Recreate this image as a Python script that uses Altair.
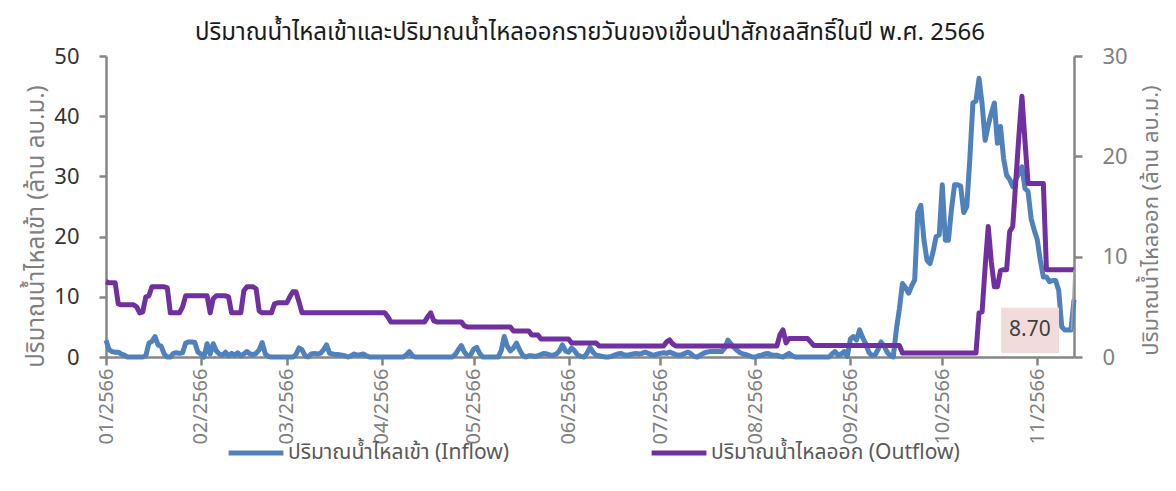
import altair as alt
import pandas as pd

FONT = "Noto Sans Thai, Noto Sans, sans-serif"

title_text = "ปริมาณน้ำไหลเข้าและปริมาณน้ำไหลออกรายวันของเขื่อนป่าสักชลสิทธิ์ในปี พ.ศ. 2566"
series_names = ["ปริมาณน้ำไหลเข้า (Inflow)", "ปริมาณน้ำไหลออก (Outflow)"]
series_colors = ["#4F81BD", "#7030A0"]
left_title = "ปริมาณน้ำไหลเข้า (ล้าน ลบ.ม.)"
right_title = "ปริมาณน้ำไหลออก (ล้าน ลบ.ม.)"

# day index of the first day of each month (day 0 = 1 Jan 2566)
month_starts = [0, 31, 59, 90, 120, 151, 181, 212, 243, 273, 304]
month_labels = ["01/2566", "02/2566", "03/2566", "04/2566", "05/2566", "06/2566",
                "07/2566", "08/2566", "09/2566", "10/2566", "11/2566"]

# daily inflow (million m3), left axis
inflow_jan = [2.8, 1.2, 0.9, 0.8, 0.8, 0.5, 0.3, 0.0, 0.0, 0.0,
              0.0, 0.0, 0.0, 0.2, 2.3, 2.6, 3.4, 2.0, 1.8, 0.5,
              0.0, 0.0, 0.6, 0.7, 0.6, 0.7, 2.3, 2.5, 2.5, 2.4, 0.8]
inflow_feb = [0.5, 0.0, 2.2, 0.5, 2.2, 1.0, 0.5, 0.3, 0.8, 0.2,
              0.6, 0.3, 0.7, 0.2, 0.5, 0.9, 0.5, 0.4, 0.6, 1.2,
              2.4, 0.5, 0.1, 0.0, 0.0, 0.0, 0.0, 0.0]
inflow_mar = [0.0, 0.0, 0.0, 0.4, 1.5, 1.2, 0.2, 0.0, 0.5, 0.6,
              0.5, 0.6, 1.2, 2.0, 0.6, 0.5, 0.4, 0.4, 0.3, 0.2,
              0.0, 0.2, 0.5, 0.3, 0.4, 0.5, 0.2, 0.0, 0.0, 0.0, 0.0]
inflow_apr = [0.0, 0.0, 0.0, 0.0, 0.0, 0.0, 0.0, 0.0, 0.3, 0.9,
              0.2, 0.0, 0.0, 0.0, 0.0, 0.0, 0.0, 0.0, 0.0, 0.0,
              0.0, 0.0, 0.0, 0.0, 0.4, 1.2, 1.9, 0.8, 0.2, 0.3]
inflow_may = [1.3, 1.6, 0.6, 0.0, 0.0, 0.0, 0.0, 0.0, 0.0, 1.0,
              3.4, 1.8, 1.0, 1.5, 2.3, 1.2, 0.3, 0.0, 0.2, 0.2,
              0.1, 0.2, 0.4, 0.6, 0.5, 0.3, 0.3, 0.5, 1.0, 2.0, 1.0]
inflow_jun = [0.8, 1.5, 1.0, 0.3, 0.1, 0.0, 0.6, 1.6, 0.8, 0.3,
              0.2, 0.1, 0.0, 0.0, 0.1, 0.3, 0.5, 0.6, 0.4, 0.3,
              0.4, 0.5, 0.6, 0.5, 0.6, 0.8, 0.6, 0.4, 0.3, 0.5]
inflow_jul = [0.6, 0.7, 0.6, 0.8, 0.6, 0.4, 0.3, 0.4, 0.6, 0.8,
              0.5, 0.1, 0.0, 0.3, 0.6, 0.8, 0.9, 0.9, 0.9, 0.9,
              0.9, 1.5, 2.8, 2.2, 1.6, 1.1, 0.7, 0.5, 0.4, 0.2, 0.0]
inflow_aug = [0.0, 0.2, 0.3, 0.5, 0.6, 0.4, 0.3, 0.3, 0.1, 0.0,
              0.3, 0.6, 0.2, 0.0, 0.0, 0.0, 0.0, 0.0, 0.0, 0.0,
              0.0, 0.0, 0.0, 0.0, 0.0, 0.5, 0.9, 0.3, 0.5, 0.9, 0.1]
inflow_sep = [3.0, 3.4, 2.8, 4.5, 3.2, 2.2, 0.8, 0.3, 0.3, 1.2,
              2.5, 1.8, 0.8, 0.2, 0.0, 4.5, 8.0, 12.2, 11.5, 10.6,
              11.8, 12.8, 24.0, 25.2, 19.5, 16.1, 15.5, 17.5, 20.0, 20.3]
inflow_oct = [28.6, 19.4, 19.4, 24.5, 28.6, 28.6, 28.4, 24.0, 25.0, 33.0,
              42.2, 42.5, 46.3, 42.0, 36.0, 38.5, 40.5, 42.2, 35.5, 38.3,
              33.0, 30.2, 29.5, 28.3, 29.5, 30.5, 31.6, 28.0, 27.5, 23.0, 21.1]
inflow_nov = [19.5, 16.1, 13.3, 13.3, 12.5, 12.7, 12.7, 11.1, 5.0, 4.5,
              4.5, 4.5, 9.5]

# daily outflow (million m3), right axis
outflow_jan = [7.5, 7.4, 7.4, 7.4, 5.3, 5.2, 5.2, 5.2, 5.2, 5.2,
               5.0, 4.4, 4.5, 6.0, 6.1, 7.0, 7.0, 7.0, 7.0, 7.0,
               6.9, 4.4, 4.4, 4.4, 4.4, 5.0, 6.1, 6.1, 6.1, 6.1, 6.1]
outflow_feb = [6.1, 6.1, 6.1, 4.4, 5.8, 6.1, 6.1, 6.1, 6.1, 6.0,
               4.4, 4.4, 4.4, 4.4, 6.6, 7.0, 7.0, 7.0, 6.8, 4.6,
               4.4, 4.4, 4.4, 4.4, 5.3, 5.4, 5.4, 5.4]
outflow_mar = [5.4, 6.0, 6.5, 6.5, 5.5, 4.4, 4.4, 4.4, 4.4, 4.4,
               4.4, 4.4, 4.4, 4.4, 4.4, 4.4, 4.4, 4.4, 4.4, 4.4,
               4.4, 4.4, 4.4, 4.4, 4.4, 4.4, 4.4, 4.4, 4.4, 4.4, 4.4]
outflow_apr = [4.4, 4.4, 4.0, 3.5, 3.5, 3.5, 3.5, 3.5, 3.5, 3.5,
               3.5, 3.5, 3.5, 3.5, 3.5, 4.0, 4.4, 3.6, 3.5, 3.5,
               3.5, 3.5, 3.5, 3.5, 3.5, 3.5, 3.5, 3.1, 3.0, 3.0]
outflow_may = [3.0, 3.0, 3.0, 3.0, 3.0, 3.0, 3.0, 3.0, 3.0, 3.0,
               3.0, 3.0, 3.0, 2.6, 2.6, 2.6, 2.6, 2.6, 2.6, 2.2,
               2.2, 2.2, 1.8, 1.8, 1.8, 1.8, 1.8, 1.8, 1.8, 1.8, 1.8]
outflow_jun = [1.8, 1.4, 1.4, 1.4, 1.4, 1.4, 1.4, 1.4, 1.4, 1.4,
               1.1, 1.1, 1.1, 1.1, 1.1, 1.1, 1.1, 1.1, 1.1, 1.1,
               1.1, 1.1, 1.1, 1.1, 1.1, 1.1, 1.1, 1.1, 1.1, 1.1]
outflow_jul = [1.1, 1.1, 1.5, 1.7, 1.3, 1.1, 1.1, 1.1, 1.1, 1.1,
               1.1, 1.1, 1.1, 1.1, 1.1, 1.1, 1.1, 1.1, 1.1, 1.1,
               1.1, 1.1, 1.1, 1.1, 1.1, 1.1, 1.1, 1.1, 1.1, 1.1, 1.1]
outflow_aug = [1.1, 1.1, 1.1, 1.1, 1.1, 1.1, 1.1, 1.1, 2.2, 2.7,
               1.4, 1.85, 1.85, 1.85, 1.85, 1.85, 1.85, 1.85, 1.5, 1.15,
               1.15, 1.15, 1.15, 1.15, 1.15, 1.15, 1.15, 1.15, 1.15, 1.15, 1.15]
outflow_sep = [1.15, 1.15, 1.15, 1.15, 1.15, 1.15, 1.15, 1.15, 1.15, 1.15,
               1.15, 1.15, 1.15, 1.15, 1.15, 1.15, 1.15, 0.4, 0.4, 0.4,
               0.4, 0.4, 0.4, 0.4, 0.4, 0.4, 0.4, 0.4, 0.4, 0.4]
outflow_oct = [0.4, 0.4, 0.4, 0.4, 0.4, 0.4, 0.4, 0.4, 0.4, 0.4,
               0.4, 0.4, 4.4, 4.5, 9.0, 13.0, 9.5, 7.0, 7.0, 8.6,
               8.7, 8.7, 12.5, 13.0, 17.5, 22.0, 26.0, 21.5, 17.3, 17.3, 17.3]
outflow_nov = [17.3, 17.3, 17.3, 8.7, 8.7, 8.7, 8.7, 8.7, 8.7, 8.7,
               8.7, 8.7, 8.7]

# data label for the last outflow value
label_text = ["8.70"]
label_day = [301.6]
label_val = [2.65]
box_day = [292.2]
box_day2 = [311.1]
box_val = [0.4]
box_val2 = [4.9]
leader_day = [316]
leader_day2 = [315.2]
leader_val = [8.7]
leader_val2 = [2.7]

inflow = (inflow_jan + inflow_feb + inflow_mar + inflow_apr + inflow_may + inflow_jun
          + inflow_jul + inflow_aug + inflow_sep + inflow_oct + inflow_nov)
outflow = (outflow_jan + outflow_feb + outflow_mar + outflow_apr + outflow_may + outflow_jun
           + outflow_jul + outflow_aug + outflow_sep + outflow_oct + outflow_nov)
n = min(len(inflow), len(outflow))
days = list(range(n))

df_in = pd.DataFrame({"day": days, "v": inflow[:n], "series": series_names[0]})
df_out = pd.DataFrame({"day": days, "v": outflow[:n], "series": series_names[1]})
df_label = pd.DataFrame({"day": label_day, "v": label_val, "t": label_text})
df_box = pd.DataFrame({"day": box_day, "d2": box_day2, "v": box_val, "v2": box_val2})
df_leader = pd.DataFrame({"day": leader_day, "d2": leader_day2, "v": leader_val, "v2": leader_val2})

xscale = alt.Scale(domain=[0, n - 1], nice=False, zero=False)
label_expr = "[" + ",".join("'" + m + "'" for m in month_labels) + "][indexof([" + \
    ",".join(str(d) for d in month_starts) + "], datum.value)]"

x_axis = alt.Axis(values=month_starts, labelExpr=label_expr, labelAngle=270,
                  labelFontSize=20, labelColor="#7f7f7f", labelPadding=3,
                  tickSize=8, title=None, labelFont=FONT)

left_axis = alt.Axis(orient="left", values=[0, 10, 20, 30, 40, 50], title=left_title,
                     titleAngle=270, titleX=-70, titleY=170, titleAlign="center",
                     titleBaseline="middle", titleFontSize=24, titleColor="#7f7f7f",
                     titleFontWeight="normal", titleFont=FONT,
                     labelFontSize=22, labelColor="#333333", labelPadding=20,
                     tickSize=7, labelFont=FONT)
right_axis = alt.Axis(orient="right", values=[0, 10, 20, 30], title=right_title,
                      titleAngle=270, titleX=76, titleY=164, titleAlign="center",
                      titleBaseline="middle", titleFontSize=22, titleColor="#7f7f7f",
                      titleFontWeight="normal", titleFont=FONT,
                      labelFontSize=22, labelColor="#808080", labelPadding=20,
                      tickSize=8, labelFont=FONT)

color_enc = alt.Color("series:N",
                      scale=alt.Scale(domain=series_names, range=series_colors),
                      legend=alt.Legend(title=None, orient="none", direction="horizontal",
                                        legendX=120, legendY=367,
                                        symbolType="stroke", symbolStrokeWidth=5,
                                        symbolSize=3000, labelFontSize=21,
                                        labelColor="#595959", labelFont=FONT,
                                        labelLimit=500,
                                        columnPadding=131, labelOffset=2))

left_scale = alt.Scale(domain=[0, 50], nice=False)
right_scale = alt.Scale(domain=[0, 30], nice=False)

inflow_line = alt.Chart(df_in).mark_line(strokeWidth=5, strokeJoin="round").encode(
    x=alt.X("day:Q", scale=xscale, axis=x_axis),
    y=alt.Y("v:Q", scale=left_scale, axis=left_axis),
    color=color_enc,
)

outflow_line = alt.Chart(df_out).mark_line(strokeWidth=5, strokeJoin="round").encode(
    x=alt.X("day:Q", scale=xscale, axis=x_axis),
    y=alt.Y("v:Q", scale=right_scale, axis=right_axis),
    color=color_enc,
)

leader = alt.Chart(df_leader).mark_rule(color="#a6a6a6", strokeWidth=1.5).encode(
    x=alt.X("day:Q", scale=xscale, axis=x_axis),
    x2="d2:Q",
    y=alt.Y("v:Q", scale=right_scale, axis=right_axis),
    y2="v2:Q",
)

box = alt.Chart(df_box).mark_rect(color="#F2DCDB").encode(
    x=alt.X("day:Q", scale=xscale, axis=x_axis),
    x2="d2:Q",
    y=alt.Y("v:Q", scale=right_scale, axis=right_axis),
    y2="v2:Q",
)

label = alt.Chart(df_label).mark_text(fontSize=21, color="#404040", font=FONT,
                                      align="center", baseline="middle").encode(
    x=alt.X("day:Q", scale=xscale, axis=x_axis),
    y=alt.Y("v:Q", scale=right_scale, axis=right_axis),
    text="t:N",
)

right_layer = alt.layer(outflow_line, leader, box, label)

chart = alt.layer(inflow_line, right_layer).resolve_scale(y="independent").properties(
    width=968, height=301,
    title=alt.TitleParams(title_text, fontSize=24, color="#1a1a1a", font=FONT,
                          fontWeight="normal", anchor="middle", offset=0),
    autosize=alt.AutoSizeParams(type="none"),
    padding={"left": 98, "top": 48, "right": 94, "bottom": 124},
).configure_view(stroke=None).configure_axis(
    grid=False, domainColor="#868686", domainWidth=2.5, tickColor="#868686", tickWidth=2.5,
)

chart.save("out.html", embed_options={"renderer": "svg", "actions": False})
